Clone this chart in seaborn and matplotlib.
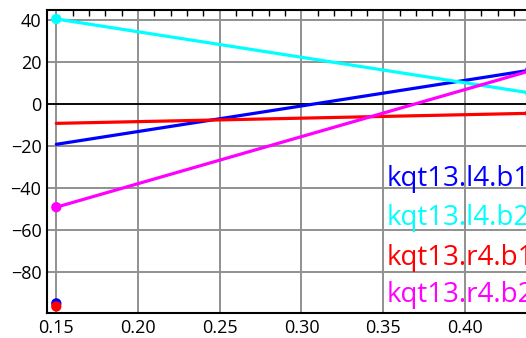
import numpy as np
import pandas as pd
import seaborn as sns
from matplotlib import pyplot as plt
from matplotlib.ticker import MultipleLocator

# series
names = ["kqt13.l4.b1", "kqt13.l4.b2", "kqt13.r4.b1", "kqt13.r4.b2"]
colors = ["#0000ff", "#00ffff", "#ff0000", "#ff00ff"]
x_line = [0.15, 0.44]
y_start = [-19.1, 40.7, -9.1, -49.1]
y_end = [16.3, 5.4, -4.3, 16.0]
# lone points at the start
pt_x = [0.15, 0.15, 0.15, 0.15]
pt_y = [-95.0, 40.7, -96.5, -49.1]

sns.set_style("white")
plt.rcParams['font.family'] = ['Open Sans', 'DejaVu Sans']

lines = pd.DataFrame({
    "x": x_line * 4,
    "y": [v for a, b in zip(y_start, y_end) for v in (a, b)],
    "name": [n for n in names for _ in range(2)],
})
pts = pd.DataFrame({"x": pt_x, "y": pt_y, "name": names})
ends = pd.DataFrame({"x": [x_line[1]] * 4, "y": y_end, "name": names})
pal = dict(zip(names, colors))

fig = plt.figure(figsize=(5.26, 3.38), dpi=100)
ax = fig.add_axes([47 / 526, 1 - 313 / 338, 498 / 526, 303 / 338])

ax.axhline(0, color="black", lw=1.3, zorder=1)
sns.lineplot(data=lines, x="x", y="y", hue="name", palette=pal, lw=2.3,
             legend=False, ax=ax, zorder=3)
sns.scatterplot(data=pts, x="x", y="y", hue="name", palette=pal, s=55,
                edgecolor="none", legend=False, ax=ax, zorder=4)
sns.scatterplot(data=ends, x="x", y="y", hue="name", palette=pal, s=55,
                edgecolor="none", legend=False, ax=ax, zorder=4)

ax.set_xlim(0.1443, 0.449)
ax.set_ylim(-99.6, 45)
ax.xaxis.set_major_locator(MultipleLocator(0.05))
ax.xaxis.set_minor_locator(MultipleLocator(0.01))
ax.yaxis.set_major_locator(MultipleLocator(20))
ax.yaxis.set_minor_locator(MultipleLocator(5))
ax.set_xticks(ax.get_xticks())
ax.set_xticklabels([f"{t:.2f}" for t in ax.get_xticks()])
ax.set_xlim(0.1443, 0.449)
ax.grid(True, which="major", color="#909090", lw=1.4, zorder=0)
ax.set_axisbelow(True)
ax.tick_params(which="both", direction="in", top=True, right=False,
               labelsize=13, colors="black", width=1)
ax.tick_params(which="major", length=0, pad=4)
ax.tick_params(which="minor", length=4)
for s in ["left", "top", "bottom"]:
    ax.spines[s].set_color("black")
    ax.spines[s].set_linewidth(1.5)
ax.set_xlabel("")
ax.set_ylabel("")

baselines = [186, 224.5, 264.5, 302]
for n, c, b in zip(names, colors, baselines):
    fig.text(386.5 / 526, 1 - b / 338, n, color=c, fontsize=20,
             ha="left", va="baseline")

fig.savefig("out.png", dpi=100)
